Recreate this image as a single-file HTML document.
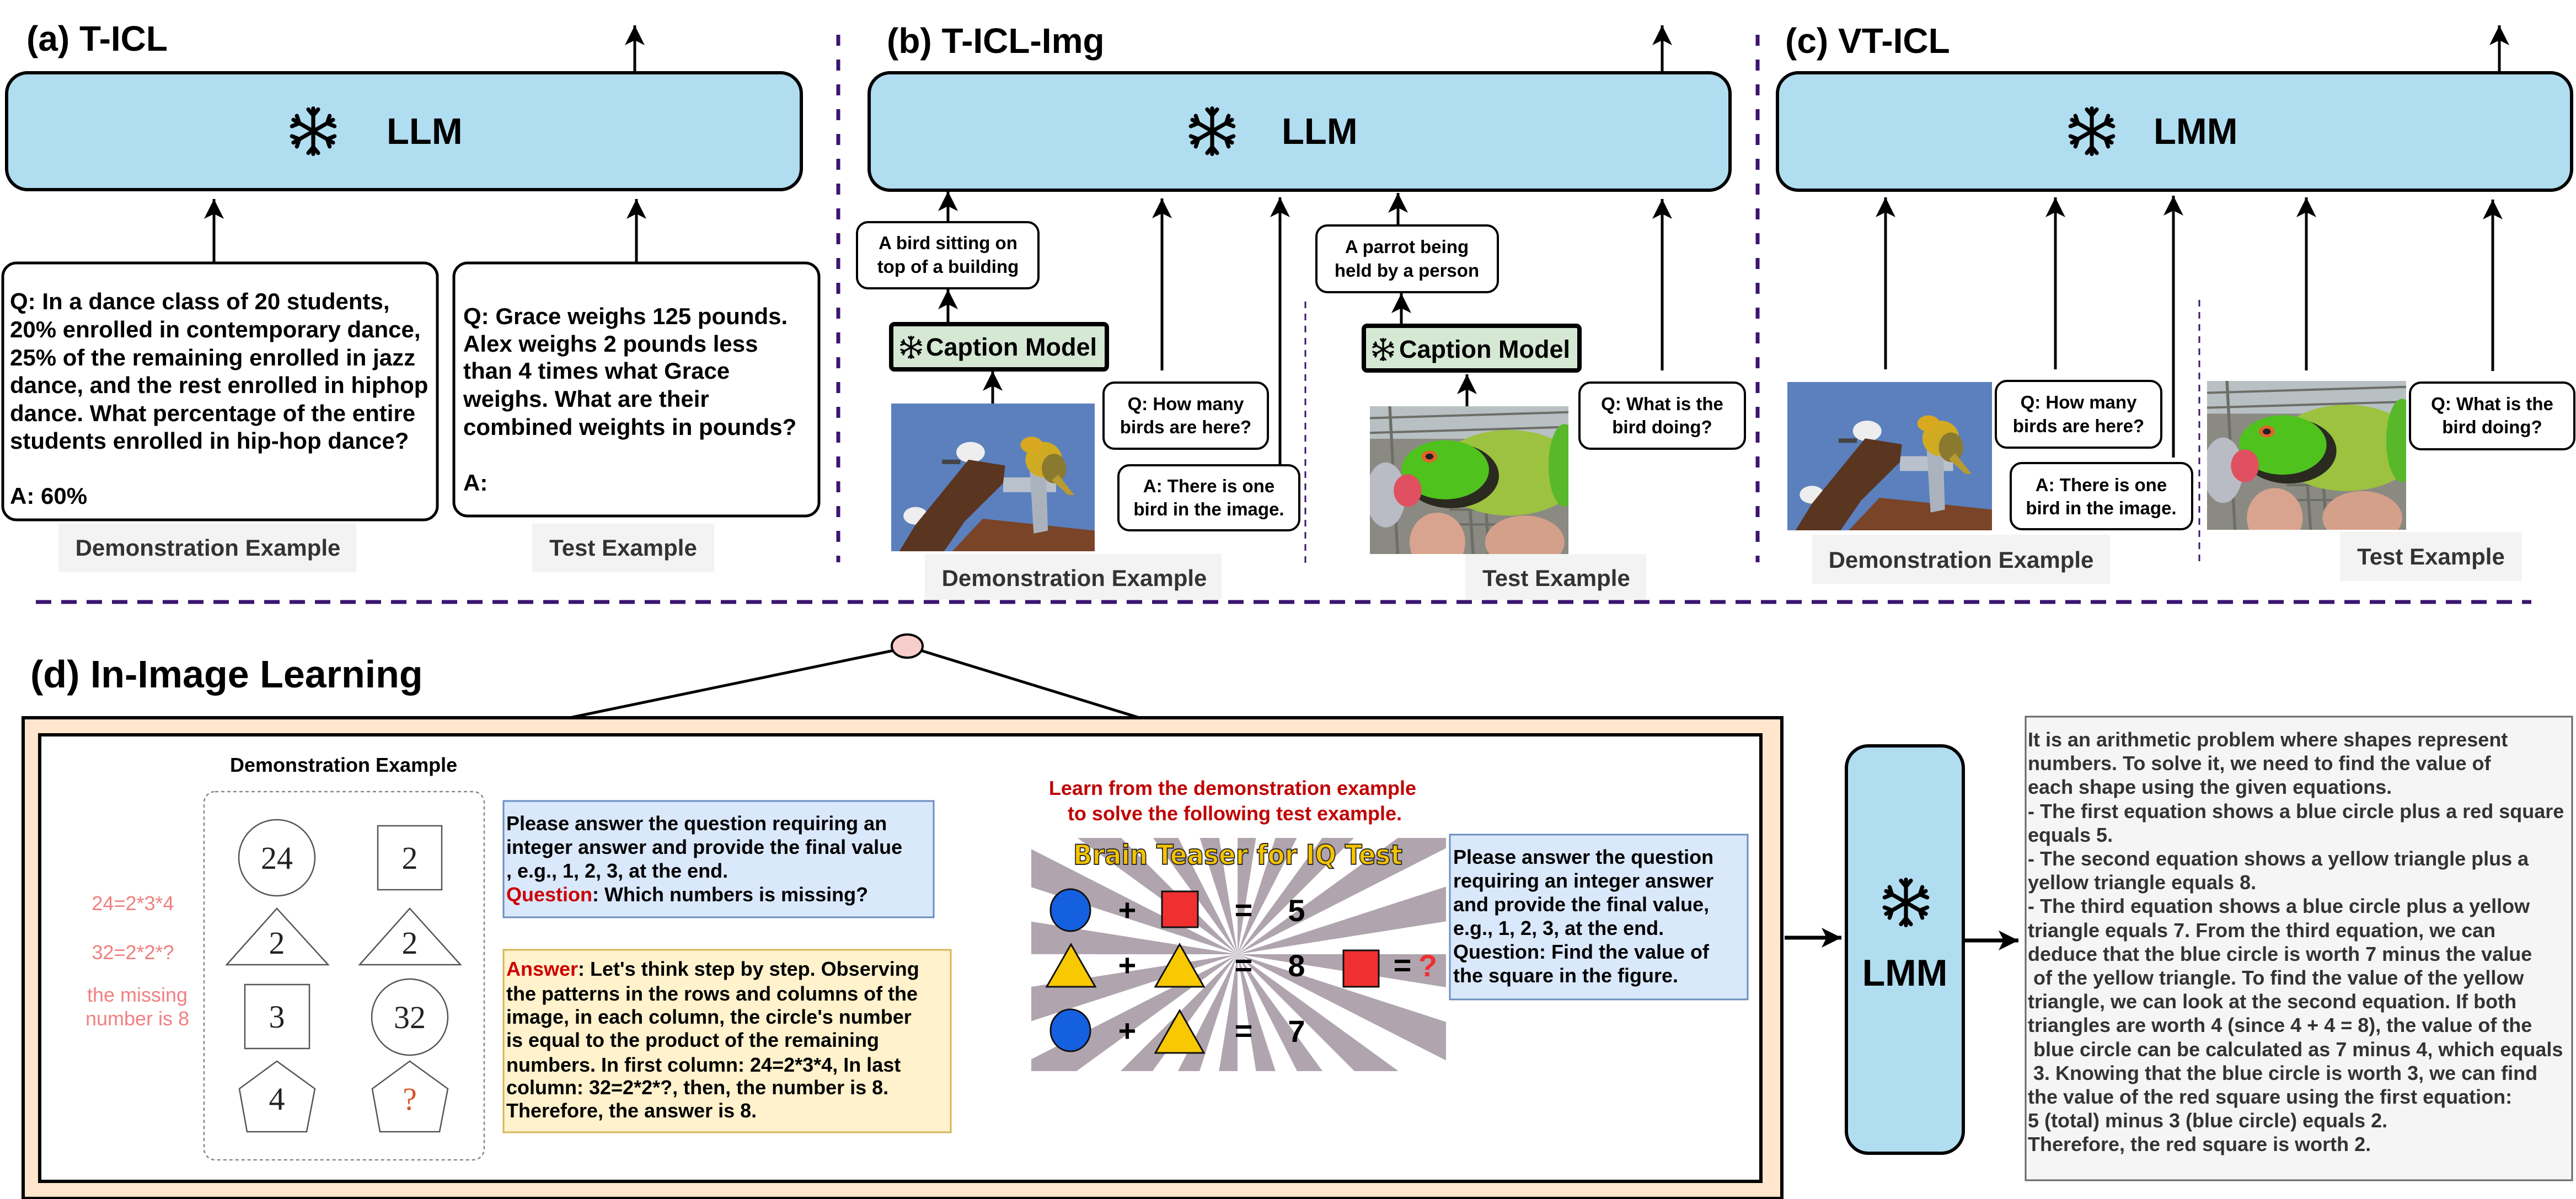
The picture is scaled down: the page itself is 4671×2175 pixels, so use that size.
<!DOCTYPE html>
<html><head><meta charset="utf-8"><style>
html,body{margin:0;padding:0;background:#fff;}
svg{display:block;}
text{font-family:"Liberation Sans",Arial,sans-serif;}
.serif text{font-family:"Liberation Serif","DejaVu Serif",serif;}
text.dj{font-family:"DejaVu Sans",sans-serif;}
.b{font-weight:bold;}
</style></head><body>
<svg xmlns="http://www.w3.org/2000/svg" width="4671" height="2175" viewBox="0 0 4671 2175" xml:space="preserve">
<defs>
<marker id="ah" markerUnits="userSpaceOnUse" markerWidth="40" markerHeight="40" refX="36" refY="18" orient="auto">
<path d="M0,0 L36,18 L0,36 L9,18 z" fill="#000"/>
</marker>
<symbol id="snow" viewBox="-50 -50 100 100">
<g stroke="#000" stroke-width="8" fill="none" stroke-linecap="round">
<line x1="0" y1="-46" x2="0" y2="46"/>
<line x1="-40" y1="-23" x2="40" y2="23"/>
<line x1="-40" y1="23" x2="40" y2="-23"/>
<polyline points="-10,-44 0,-32 10,-44"/><polyline points="-10,44 0,32 10,44"/>
<polyline points="-43,-10 -28,-16 -33,-31"/><polyline points="43,10 28,16 33,31"/>
<polyline points="-43,10 -28,16 -33,31"/><polyline points="43,-10 28,-16 33,-31"/>
</g>
</symbol>
<symbol id="bird" viewBox="0 0 100 100" preserveAspectRatio="none">
<rect width="100" height="100" fill="#5b80bd"/>
<polygon points="30,100 45,78 100,86 100,100" fill="#7a4428"/>
<rect x="55" y="50" width="26" height="10" fill="#b9c1cc"/>
<polygon points="68,43 76,42 77,86 70,88" fill="#aab3bd"/>
<ellipse cx="39" cy="33" rx="7" ry="7" fill="#eee"/>
<ellipse cx="12" cy="76" rx="6" ry="6" fill="#eee"/>
<polygon points="4,100 12,82 38,38 56,42 55,54 36,80 26,100" fill="#5a3520"/>
<rect x="25" y="38" width="9" height="3" fill="#444"/>
<ellipse cx="75" cy="38" rx="9" ry="12" fill="#d0ab22"/>
<ellipse cx="80" cy="44" rx="6" ry="10" fill="#8a7a30"/>
<circle cx="69" cy="28" r="5.5" fill="#d8a820"/>
<polygon points="82,48 90,62 87,62 79,52" fill="#b89a30"/>
</symbol>
<symbol id="parrot" viewBox="0 0 100 100" preserveAspectRatio="none">
<rect width="100" height="100" fill="#8b8a82"/>
<rect width="100" height="22" fill="#b8c0c4"/>
<g stroke="#6d6e68" stroke-width="1.5"><line x1="0" y1="8" x2="100" y2="4"/><line x1="0" y1="18" x2="100" y2="14"/><line x1="10" y1="0" x2="14" y2="100"/><line x1="50" y1="60" x2="52" y2="100"/><line x1="58" y1="60" x2="60" y2="100"/><line x1="40" y1="70" x2="70" y2="70"/><line x1="40" y1="80" x2="70" y2="80"/></g>
<ellipse cx="8" cy="60" rx="10" ry="22" fill="#b9bcc4"/>
<ellipse cx="70" cy="45" rx="36" ry="29" fill="#9cc23f"/>
<ellipse cx="98" cy="40" rx="8" ry="28" fill="#58b82a"/>
<ellipse cx="41" cy="47" rx="24" ry="22" fill="#2a2a20"/>
<ellipse cx="38" cy="43" rx="22" ry="20" fill="#4fc21e"/>
<circle cx="30" cy="34" r="4" fill="#e0642a"/><circle cx="30" cy="34" r="2" fill="#222"/>
<ellipse cx="19" cy="57" rx="7" ry="11" fill="#e05060"/>
<ellipse cx="34" cy="92" rx="14" ry="20" fill="#d9a48f"/>
<ellipse cx="78" cy="92" rx="20" ry="18" fill="#d4a08a"/>
</symbol>
<clipPath id="bt"><rect x="1870" y="1520" width="752" height="423"/></clipPath>
</defs>

<!-- dashed separators -->
<g stroke="#3b1470" stroke-width="7" fill="none">
<line x1="1520" y1="63" x2="1520" y2="1020" stroke-dasharray="20 25"/>
<line x1="3187" y1="63" x2="3187" y2="1020" stroke-dasharray="20 25"/>
<line x1="65" y1="1092" x2="4590" y2="1092" stroke-dasharray="28 18"/>
</g>
<g stroke="#3b1470" stroke-width="3" fill="none" stroke-dasharray="12 10">
<line x1="2367" y1="547" x2="2367" y2="1024"/>
<line x1="3988" y1="544" x2="3988" y2="1021"/>
</g>

<!-- titles -->
<text x="48" y="92" class="b" font-size="64">(a) T-ICL</text>
<text x="1608" y="96" class="b" font-size="64">(b) T-ICL-Img</text>
<text x="3237" y="96" class="b" font-size="64">(c) VT-ICL</text>

<!-- model boxes -->
<g fill="#b1ddf0" stroke="#000" stroke-width="6">
<rect x="12" y="132" width="1441" height="212" rx="38"/>
<rect x="1576" y="132" width="1561" height="213" rx="38"/>
<rect x="3223" y="132" width="1440" height="213" rx="38"/>
</g>
<use href="#snow" x="523" y="193" width="90" height="90"/>
<use href="#snow" x="2153" y="193" width="90" height="90"/>
<use href="#snow" x="3748" y="193" width="90" height="90"/>
<text x="701" y="261" class="b" font-size="67">LLM</text>
<text x="2324" y="261" class="b" font-size="67">LLM</text>
<text x="3905" y="261" class="b" font-size="67">LMM</text>

<!-- arrows -->
<g stroke="#000" stroke-width="5" marker-end="url(#ah)">
<line x1="1151" y1="132" x2="1151" y2="46"/>
<line x1="3014" y1="132" x2="3014" y2="46"/>
<line x1="4532" y1="132" x2="4532" y2="46"/>
<line x1="388" y1="477" x2="388" y2="361"/>
<line x1="1154" y1="477" x2="1154" y2="361"/>
<line x1="1719" y1="403" x2="1719" y2="347"/>
<line x1="1719" y1="588" x2="1719" y2="525"/>
<line x1="1800" y1="732" x2="1800" y2="673"/>
<line x1="2107" y1="672" x2="2107" y2="360"/>
<line x1="2321" y1="844" x2="2321" y2="358"/>
<line x1="2535" y1="409" x2="2535" y2="350"/>
<line x1="2541" y1="591" x2="2541" y2="532"/>
<line x1="2660" y1="737" x2="2660" y2="679"/>
<line x1="3014" y1="672" x2="3014" y2="361"/>
<line x1="3419" y1="670" x2="3419" y2="358"/>
<line x1="3727" y1="670" x2="3727" y2="358"/>
<line x1="3941" y1="830" x2="3941" y2="355"/>
<line x1="4182" y1="672" x2="4182" y2="358"/>
<line x1="4520" y1="673" x2="4520" y2="362"/>
</g>

<!-- (a) text boxes -->
<g fill="#fff" stroke="#000" stroke-width="5">
<rect x="5" y="477" width="788" height="466" rx="25"/>
<rect x="823" y="477" width="662" height="459" rx="25"/>
</g>
<g class="b" font-size="42">
<text x="18" y="561">Q: In a dance class of 20 students,</text>
<text x="18" y="612">20% enrolled in contemporary dance,</text>
<text x="18" y="663">25% of the remaining enrolled in jazz</text>
<text x="18" y="713">dance, and the rest enrolled in hiphop</text>
<text x="18" y="764">dance. What percentage of the entire</text>
<text x="18" y="814">students enrolled in hip-hop dance?</text>
<text x="18" y="914">A: 60%</text>
<text x="840" y="588">Q: Grace weighs 125 pounds.</text>
<text x="840" y="638">Alex weighs 2 pounds less</text>
<text x="840" y="687">than 4 times what Grace</text>
<text x="840" y="738">weighs. What are their</text>
<text x="840" y="789">combined weights in pounds?</text>
<text x="840" y="890">A:</text>
</g>

<!-- grey labels -->
<g fill="#f3f3f3">
<rect x="106" y="950" width="540" height="88"/>
<rect x="965" y="950" width="330" height="88"/>
<rect x="1677" y="1005" width="538" height="83"/>
<rect x="2657" y="1005" width="328" height="83"/>
<rect x="3286" y="970" width="540" height="89"/>
<rect x="4243" y="965" width="330" height="89"/>
</g>
<g class="b" font-size="42" fill="#333" text-anchor="middle">
<text x="377" y="1008">Demonstration Example</text>
<text x="1130" y="1008">Test Example</text>
<text x="1948" y="1063">Demonstration Example</text>
<text x="2822" y="1063">Test Example</text>
<text x="3556" y="1030">Demonstration Example</text>
<text x="4408" y="1024">Test Example</text>
</g>

<!-- (b)(c) small boxes -->
<g fill="#fff" stroke="#000" stroke-width="4">
<rect x="1554" y="403" width="329" height="120" rx="20"/>
<rect x="2387" y="409" width="329" height="121" rx="20"/>
<rect x="2001" y="694" width="298" height="120" rx="20"/>
<rect x="2028" y="844" width="328" height="118" rx="20"/>
<rect x="2864" y="694" width="300" height="120" rx="20"/>
<rect x="3619" y="691" width="300" height="121" rx="20"/>
<rect x="3646" y="840" width="329" height="120" rx="20"/>
<rect x="4370" y="694" width="298" height="121" rx="20"/>
</g>
<g fill="#d5e8d4" stroke="#000" stroke-width="8">
<rect x="1616" y="588" width="391" height="82" rx="6"/>
<rect x="2473" y="591" width="391" height="81" rx="6"/>
</g>
<use href="#snow" x="1631" y="609" width="42" height="42"/>
<use href="#snow" x="2487" y="613" width="42" height="42"/>
<g class="b" font-size="45">
<text x="1679" y="645">Caption Model</text>
<text x="2537" y="649">Caption Model</text>
</g>
<g class="b" font-size="33" text-anchor="middle">
<text x="1719" y="452">A bird sitting on</text>
<text x="1719" y="495">top of a building</text>
<text x="2551" y="459">A parrot being</text>
<text x="2551" y="502">held by a person</text>
<text x="2150" y="744">Q: How many</text>
<text x="2150" y="786">birds are here?</text>
<text x="2192" y="893">A: There is one</text>
<text x="2192" y="935">bird in the image.</text>
<text x="3014" y="744">Q: What is the</text>
<text x="3014" y="786">bird doing?</text>
<text x="3769" y="741">Q: How many</text>
<text x="3769" y="784">birds are here?</text>
<text x="3810" y="891">A: There is one</text>
<text x="3810" y="933">bird in the image.</text>
<text x="4519" y="744">Q: What is the</text>
<text x="4519" y="786">bird doing?</text>
</g>

<!-- photos -->
<use href="#bird" x="1616" y="732" width="369" height="268"/>
<use href="#parrot" x="2484" y="737" width="360" height="268"/>
<use href="#bird" x="3241" y="693" width="371" height="269"/>
<use href="#parrot" x="4002" y="691" width="361" height="270"/>

<!-- (d) -->
<text x="55" y="1247" class="b" font-size="70">(d) In-Image Learning</text>
<rect x="42" y="1302" width="3189" height="872" fill="#ffe6cc" stroke="#000" stroke-width="6"/>
<rect x="72" y="1333" width="3121" height="810" fill="#fff" stroke="#000" stroke-width="6"/>
<g stroke="#000" stroke-width="5">
<line x1="1620" y1="1180" x2="1033" y2="1302"/>
<line x1="1670" y1="1180" x2="2066" y2="1302"/>
</g>
<ellipse cx="1645" cy="1172" rx="28" ry="21" fill="#f8cecc" stroke="#000" stroke-width="4"/>

<text x="417" y="1400" class="b" font-size="36">Demonstration Example</text>
<rect x="370" y="1436" width="508" height="668" rx="20" fill="none" stroke="#888" stroke-width="2.5" stroke-dasharray="6 5"/>
<g fill="none" stroke="#555" stroke-width="2.5">
<circle cx="502" cy="1556" r="69"/>
<rect x="685" y="1498" width="116" height="116"/>
<polygon points="502,1648 595,1750 411,1750"/>
<polygon points="743,1648 835,1750 652,1750"/>
<rect x="444" y="1786" width="117" height="116"/>
<circle cx="743" cy="1845" r="69"/>
<polygon points="502,1925 571,1975 556,2053 448,2053 434,1975"/>
<polygon points="743,1925 812,1975 797,2053 689,2053 675,1975"/>
</g>
<g class="serif" font-size="58" text-anchor="middle" fill="#222">
<text x="502" y="1576">24</text>
<text x="743" y="1576">2</text>
<text x="502" y="1730">2</text>
<text x="743" y="1730">2</text>
<text x="502" y="1864">3</text>
<text x="743" y="1865">32</text>
<text x="502" y="2013">4</text>
<text x="743" y="2013" fill="#d9542c">?</text>
</g>
<g font-size="36" fill="#f08080" text-anchor="middle">
<text x="241" y="1651">24=2*3*4</text>
<text x="241" y="1740">32=2*2*?</text>
<text x="249" y="1817">the missing</text>
<text x="249" y="1860">number is 8</text>
</g>

<rect x="913" y="1453" width="780" height="211" fill="#dae8fc" stroke="#6c8ebf" stroke-width="3"/>
<g class="b" font-size="36">
<text x="918" y="1506">Please answer the question requiring an</text>
<text x="918" y="1549">integer answer and provide the final value</text>
<text x="918" y="1592">, e.g., 1, 2, 3, at the end.</text>
<text x="918" y="1635"><tspan fill="#cc0000">Question</tspan>: Which numbers is missing?</text>
</g>
<rect x="913" y="1723" width="811" height="331" fill="#fff2cc" stroke="#d6b656" stroke-width="3"/>
<g class="b" font-size="36">
<text x="918" y="1770"><tspan fill="#cc0000">Answer</tspan>: Let's think step by step. Observing</text>
<text x="918" y="1815">the patterns in the rows and columns of the</text>
<text x="918" y="1857">image, in each column, the circle's number</text>
<text x="918" y="1899">is equal to the product of the remaining</text>
<text x="918" y="1944">numbers. In first column: 24=2*3*4, In last</text>
<text x="918" y="1985">column: 32=2*2*?, then, the number is 8.</text>
<text x="918" y="2027">Therefore, the answer is 8.</text>
</g>

<g class="b" font-size="36" fill="#c00000" text-anchor="middle">
<text x="2235" y="1442">Learn from the demonstration example</text>
<text x="2239" y="1488">to solve the following test example.</text>
</g>
<!-- brain teaser -->
<g clip-path="url(#bt)">
<rect x="1870" y="1520" width="752" height="423" fill="#fff"/>
<circle cx="2244" cy="1731" r="260" fill="none" stroke="#b0a5ae" stroke-width="520" stroke-dasharray="40.84 40.84"/>
</g>
<text class="dj" x="1946" y="1568" textLength="597" lengthAdjust="spacingAndGlyphs" font-size="50" font-weight="bold" fill="#f5c400" stroke="#2a2a2a" stroke-width="2">Brain Teaser for IQ Test</text>
<g stroke="#111" stroke-width="3">
<ellipse cx="1941" cy="1651" rx="36" ry="38" fill="#1560e0"/>
<rect x="2107" y="1617" width="65" height="65" fill="#f03030"/>
<polygon points="1942,1713 1986,1790 1898,1790" fill="#f8c800"/>
<polygon points="2139,1713 2183,1790 2095,1790" fill="#f8c800"/>
<rect x="2436" y="1724" width="64" height="66" fill="#f03030"/>
<ellipse cx="1941" cy="1869" rx="36" ry="38" fill="#1560e0"/>
<polygon points="2139,1833 2183,1910 2095,1910" fill="#f8c800"/>
</g>
<g class="b" font-size="56" text-anchor="middle">
<text x="2044" y="1670">+</text><text x="2255" y="1670">=</text><text x="2351" y="1671">5</text>
<text x="2044" y="1770">+</text><text x="2255" y="1770">=</text><text x="2351" y="1771">8</text>
<text x="2543" y="1770">=</text><text x="2589" y="1771" fill="#f03030">?</text>
<text x="2044" y="1889">+</text><text x="2255" y="1889">=</text><text x="2351" y="1890">7</text>
</g>
<rect x="2629" y="1514" width="540" height="299" fill="#dae8fc" stroke="#6c8ebf" stroke-width="3"/>
<g class="b" font-size="36">
<text x="2635" y="1567">Please answer the question</text>
<text x="2635" y="1610">requiring an integer answer</text>
<text x="2635" y="1653">and provide the final value,</text>
<text x="2635" y="1696">e.g., 1, 2, 3, at the end.</text>
<text x="2635" y="1739">Question: Find the value of</text>
<text x="2635" y="1782">the square in the figure.</text>
</g>

<g stroke="#000" stroke-width="7" marker-end="url(#ah)">
<line x1="3236" y1="1701" x2="3339" y2="1701"/>
<line x1="3560" y1="1706" x2="3660" y2="1706"/>
</g>
<rect x="3348" y="1353" width="212" height="739" rx="40" fill="#b1ddf0" stroke="#000" stroke-width="6"/>
<use href="#snow" x="3411" y="1592" width="90" height="90"/>
<text x="3454" y="1788" class="b" font-size="68" text-anchor="middle">LMM</text>

<rect x="3673" y="1300" width="991" height="841" fill="#f5f5f5" stroke="#666" stroke-width="3"/>
<g class="b" font-size="36" fill="#333">
<text x="3677" y="1354">It is an arithmetic problem where shapes represent</text>
<text x="3677" y="1397">numbers. To solve it, we need to find the value of</text>
<text x="3677" y="1440">each shape using the given equations.</text>
<text x="3677" y="1484">- The first equation shows a blue circle plus a red square</text>
<text x="3677" y="1527">equals 5.</text>
<text x="3677" y="1570">- The second equation shows a yellow triangle plus a</text>
<text x="3677" y="1613">yellow triangle equals 8.</text>
<text x="3677" y="1656">- The third equation shows a blue circle plus a yellow</text>
<text x="3677" y="1700">triangle equals 7. From the third equation, we can</text>
<text x="3677" y="1743">deduce that the blue circle is worth 7 minus the value</text>
<text x="3687" y="1786">of the yellow triangle. To find the value of the yellow</text>
<text x="3677" y="1829">triangle, we can look at the second equation. If both</text>
<text x="3677" y="1872">triangles are worth 4 (since 4 + 4 = 8), the value of the</text>
<text x="3687" y="1916">blue circle can be calculated as 7 minus 4, which equals</text>
<text x="3687" y="1959">3. Knowing that the blue circle is worth 3, we can find</text>
<text x="3677" y="2002">the value of the red square using the first equation:</text>
<text x="3677" y="2045">5 (total) minus 3 (blue circle) equals 2.</text>
<text x="3677" y="2088">Therefore, the red square is worth 2.</text>
</g>
</svg>
</body></html>
